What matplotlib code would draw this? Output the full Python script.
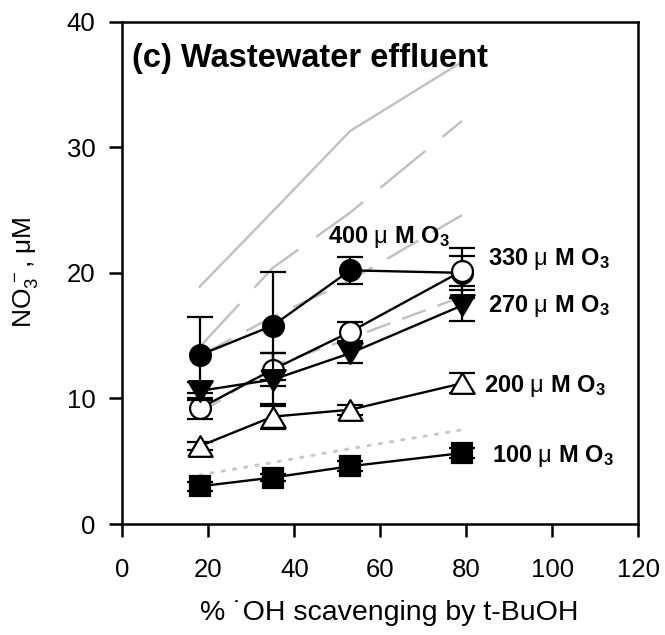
import matplotlib
matplotlib.use('Agg')
import matplotlib.pyplot as plt

plt.rcParams['font.family'] = ['Liberation Sans', 'DejaVu Sans']
plt.rcParams['mathtext.fontset'] = 'custom'
plt.rcParams['mathtext.rm'] = 'Liberation Sans'
plt.rcParams['mathtext.bf'] = 'Liberation Sans:bold'
plt.rcParams['mathtext.it'] = 'Liberation Sans:italic'
plt.rcParams['mathtext.default'] = 'regular'
plt.rcParams['lines.scale_dashes'] = False

# ---- data ----
scavenging = [18, 35, 53, 79]

no3_400 = [13.45, 15.8, 20.2, 20.0]
err_400 = [3.0, 4.3, 1.05, 2.0]
no3_330 = [9.2, 12.3, 15.3, 20.15]
err_330 = [0.8, 1.3, 0.75, 1.2]
no3_270 = [10.6, 11.5, 13.6, 17.4]
err_270 = [0.7, 2.1, 0.8, 1.25]
no3_200 = [6.2, 8.55, 9.1, 11.2]
err_200 = [0.3, 1.0, 0.4, 0.8]
no3_100 = [3.0, 3.7, 4.6, 5.65]
err_100 = [0.35, 0.3, 0.4, 0.4]

model_400 = [18.9, 24.9, 31.3, 36.8]
model_330 = [14.1, 20.4, 24.8, 32.1]
model_270 = [13.4, 16.5, 19.4, 24.6]
model_200 = [8.8, 12.6, 14.8, 18.1]
model_100 = [3.9, 4.9, 6.0, 7.5]

labels = ['400 $\\mathrm{\\mu}$ M O$_3$', '330 $\\mathrm{\\mu}$ M O$_3$',
          '270 $\\mathrm{\\mu}$ M O$_3$', '200 $\\mathrm{\\mu}$ M O$_3$',
          '100 $\\mathrm{\\mu}$ M O$_3$']
label_x = [47.9, 85.1, 85.1, 84.0, 85.9]
label_y = [22.35, 20.62, 16.9, 10.53, 4.96]

xticks = [0, 20, 40, 60, 80, 100, 120]
yticks = [0, 10, 20, 30, 40]

# ---- figure ----
W, H = 665, 635
fig = plt.figure(figsize=(W / 100, H / 100), dpi=100)
L, R, T, B = 122.3, 638.3, 21.7, 524.0
ax = fig.add_axes([L / W, 1 - B / H, (R - L) / W, (B - T) / H])

gray = '#c0c0c0'
ax.plot(scavenging, model_400, color=gray, lw=1.7, zorder=1)
ax.plot(scavenging, model_330, color=gray, lw=1.7, dashes=(42, 16), zorder=1)
ax.plot(scavenging, model_270, color=gray, lw=1.7, dashes=(26, 12), zorder=1)
ax.plot(scavenging, model_200, color=gray, lw=1.7, dashes=(18, 9), zorder=1)
ax.plot(scavenging, model_100, color='#c8c8c8', lw=2.2, dashes=(1.6, 6.6),
        dash_capstyle='round', zorder=1)

tri_up = [(-1, -0.85), (1, -0.85), (0, 0.85), (-1, -0.85)]
tri_dn = [(-1, 0.85), (1, 0.85), (0, -0.85), (-1, 0.85)]

series = [
    (no3_400, err_400, 'o', 'black', 15.0),
    (no3_330, err_330, 'o', 'white', 15.0),
    (no3_270, err_270, tri_dn, 'black', 17.5),
    (no3_200, err_200, tri_up, 'white', 17.5),
    (no3_100, err_100, 's', 'black', 14.5),
]
for i, (yv, ev, mk, fc, ms) in enumerate(series):
    ax.errorbar(scavenging, yv, yerr=ev, color='black', marker=mk, mfc=fc,
                mec='black', ms=ms, mew=1.6, lw=1.7, elinewidth=1.6,
                capsize=9.5, capthick=1.6, zorder=3 + i)

for txt, tx, ty in zip(labels, label_x, label_y):
    ax.text(tx, ty, txt, fontsize=17, fontweight='bold', ha='left',
            va='baseline', zorder=10)

ax.text(2.2, 36.4, '(c) Wastewater effluent', fontsize=23.5, fontweight='bold',
        ha='left', va='baseline')

ax.set_xlim(0, 120)
ax.set_ylim(0, 40)
ax.set_xticks(xticks)
ax.set_yticks(yticks)
for s in ax.spines.values():
    s.set_linewidth(1.8)
ax.tick_params(direction='out', length=9.4, width=1.8, labelsize=18.5)
ax.tick_params(axis='x', pad=15)
ax.tick_params(axis='y', pad=10)

fig.text(389 / W, 1 - 613 / H, '% \u02d9OH scavenging by t-BuOH', fontsize=20.5,
         ha='center', va='center')
fig.text(26 / W, 1 - 272 / H, 'NO$_3^{\\,-}$, $\\mathrm{\\mu}$M', fontsize=19,
         rotation=90, ha='center', va='center')

fig.savefig('out.png', dpi=100)
